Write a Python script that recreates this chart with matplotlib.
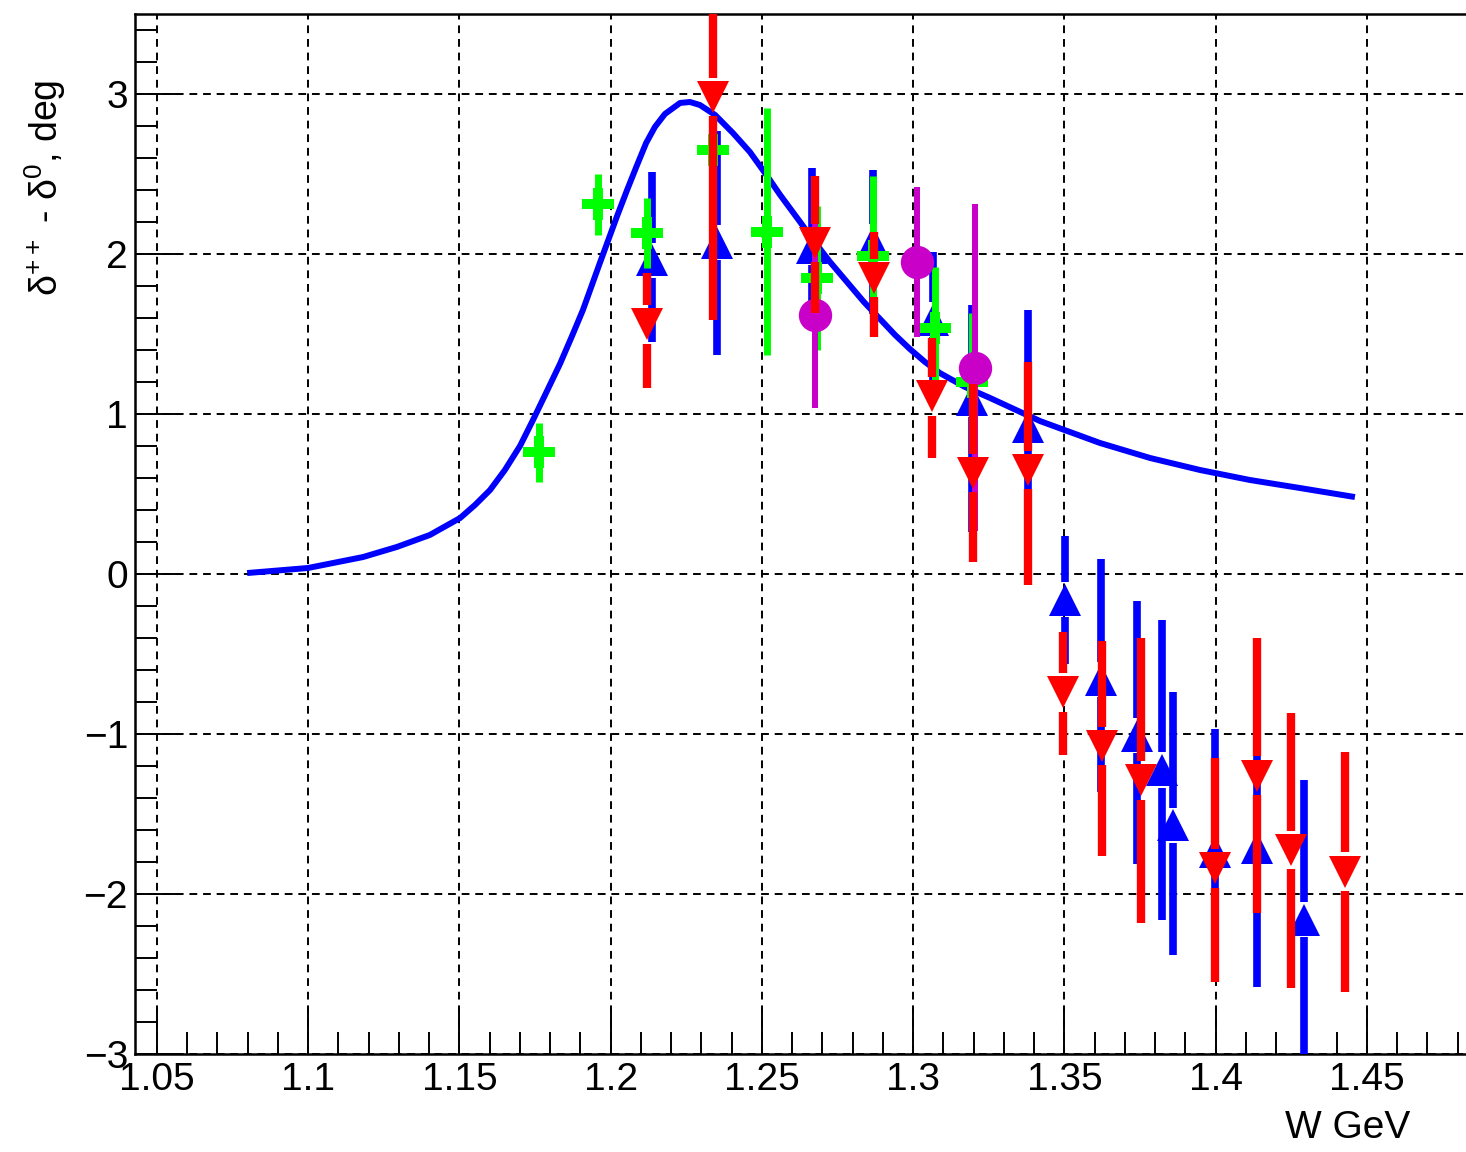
import numpy as np
import matplotlib
matplotlib.use("Agg")
import matplotlib.pyplot as plt
from matplotlib.ticker import FixedLocator, MultipleLocator

plt.rcParams['font.family'] = ['Liberation Sans', 'DejaVu Sans']

# ---------------- data ----------------
curve_w = [1.0798, 1.0999, 1.1181, 1.1293, 1.1402, 1.1502, 1.1551, 1.1601, 1.1650, 1.1700,
           1.1743, 1.1786, 1.1832, 1.1872, 1.1908, 1.1964, 1.2021, 1.2054, 1.2087, 1.2117,
           1.2146, 1.2179, 1.2229, 1.2262, 1.2295, 1.2345, 1.2404, 1.2460, 1.2517, 1.2560,
           1.2626, 1.2669, 1.2725, 1.2781, 1.2837, 1.2890, 1.2940, 1.2989, 1.3039, 1.3088,
           1.3171, 1.3254, 1.3419, 1.3617, 1.3783, 1.3948, 1.4113, 1.4278, 1.4460]
curve_v = [0.006, 0.0375, 0.106, 0.169, 0.244, 0.35, 0.431, 0.525, 0.65, 0.80,
           0.9625, 1.131, 1.3125, 1.4875, 1.65, 1.944, 2.2375, 2.40, 2.556, 2.694,
           2.794, 2.875, 2.944, 2.95, 2.931, 2.869, 2.756, 2.6375, 2.4875, 2.369,
           2.20, 2.0875, 1.95, 1.825, 1.70, 1.594, 1.494, 1.406, 1.325, 1.256,
           1.169, 1.10, 0.956, 0.819, 0.725, 0.65, 0.5875, 0.5375, 0.481]

green_w = [1.1763, 1.1958, 1.2120, 1.2338, 1.2516, 1.2682, 1.2867, 1.3072, 1.3194]
green_v = [0.76, 2.31, 2.13, 2.65, 2.14, 1.85, 1.99, 1.54, 1.20]
green_lo = [0.185, 0.19, 0.22, 0.11, 0.77, 0.45, 0.50, 0.38, 0.43]
green_hi = [0.185, 0.19, 0.22, 0.11, 0.77, 0.45, 0.50, 0.38, 0.43]

blue_w = [1.2136, 1.2351, 1.2665, 1.2867, 1.3065, 1.3194, 1.3380, 1.3502, 1.3620,
          1.3740, 1.3822, 1.3859, 1.3997, 1.4136, 1.4292]
blue_v = [1.96, 2.07, 2.04, 2.075, 1.59, 1.09, 0.92, -0.16, -0.66,
          -1.01, -1.225, -1.57, -1.74, -1.71, -2.16]
blue_lo = [0.51, 0.70, 0.50, 0.45, 0.42, 0.83, 0.73, 0.40, 0.70,
           0.80, 0.94, 0.81, 0.77, 0.87, 0.87]
blue_hi = [0.55, 0.70, 0.50, 0.45, 0.42, 0.59, 0.73, 0.40, 0.755,
           0.84, 0.94, 0.83, 0.77, 0.87, 0.87]

red_w = [1.2120, 1.2338, 1.2675, 1.2870, 1.3062, 1.3198, 1.3380, 1.3495, 1.3624,
         1.3753, 1.3997, 1.4136, 1.4249, 1.4427]
red_v = [1.56, 2.98, 2.07, 1.85, 1.11, 0.63, 0.65, -0.74, -1.075,
         -1.29, -1.84, -1.26, -1.725, -1.86]
red_lo = [0.40, 1.39, 0.44, 0.37, 0.385, 0.555, 0.72, 0.39, 0.685,
          0.89, 0.71, 0.86, 0.865, 0.75]
red_hi = [0.32, 1.39, 0.42, 0.29, 0.365, 0.555, 0.675, 0.38, 0.655,
          0.89, 0.69, 0.86, 0.855, 0.75]

mag_w = [1.2675, 1.3012, 1.3204]
mag_v = [1.62, 1.95, 1.29]
mag_lo = [0.58, 0.47, 1.02]
mag_hi = [0.58, 0.47, 1.02]

x_ticks = [1.05, 1.10, 1.15, 1.20, 1.25, 1.30, 1.35, 1.40, 1.45]
x_tick_labels = ['1.05', '1.1', '1.15', '1.2', '1.25', '1.3', '1.35', '1.4', '1.45']
y_ticks = [-3, -2, -1, 0, 1, 2, 3]
y_tick_labels = ['\u22123', '\u22122', '\u22121', '0', '1', '2', '3']

# ---------------- figure ----------------
W, H = 1466, 1152
fig = plt.figure(figsize=(W / 100, H / 100), dpi=100)
ax = fig.add_axes([135 / W, (H - 1054) / H, 1 - 135 / W, (1054 - 14) / H])

x0 = 1.05 - 22 / 3025.0
x1 = 1.05 + (W - 157) / 3025.0
ax.set_xlim(x0, x1)
ax.set_ylim(-3, 3.5)

ax.set_axisbelow(True)
ax.grid(True, which='major', color='black', linestyle=(0, (4, 3)), linewidth=1.4)

ax.plot(curve_w, curve_v, color='#0000ff', lw=4.3, zorder=2,
        solid_capstyle='butt', solid_joinstyle='round')


def draw_series(w, v, lo, hi, color, marker, ms, lw, gap, z):
    w = np.asarray(w, float)
    v = np.asarray(v, float)
    lo = np.asarray(lo, float)
    hi = np.asarray(hi, float)
    m_up = hi > gap
    m_dn = lo > gap
    ax.vlines(w[m_up], (v + gap)[m_up], (v + hi)[m_up], colors=color, lw=lw,
              zorder=z, capstyle='butt')
    ax.vlines(w[m_dn], (v - lo)[m_dn], (v - gap)[m_dn], colors=color, lw=lw,
              zorder=z, capstyle='butt')
    ax.plot(w, v, linestyle='none', marker=marker, ms=ms, color=color,
            mec=color, mew=0, zorder=z + 0.1)


draw_series(blue_w, blue_v, blue_lo, blue_hi, '#0000ff', '^', 23, 5.5, 0.11, 3)
draw_series(green_w, green_v, green_lo, green_hi, '#00ff00', 'P', 23, 5.0, 0.0, 4)
draw_series(mag_w, mag_v, mag_lo, mag_hi, '#c800c8', 'o', 24, 4.3, 0.0, 5)
draw_series(red_w, red_v, red_lo, red_hi, '#ff0000', 'v', 23, 6.0, 0.12, 6)

# axes / ticks
ax.xaxis.set_major_locator(FixedLocator(x_ticks))
ax.set_xticklabels(x_tick_labels)
ax.yaxis.set_major_locator(FixedLocator(y_ticks))
ax.set_yticklabels(y_tick_labels)
ax.xaxis.set_minor_locator(MultipleLocator(0.01))
ax.yaxis.set_minor_locator(MultipleLocator(0.2))
ax.tick_params(axis='both', which='major', direction='in', length=33, width=1.4,
               labelsize=28, top=False, right=False, color='black')
ax.tick_params(axis='both', which='minor', direction='in', length=16, width=1.4,
               top=False, right=False)
ax.tick_params(axis='x', which='major', pad=6)
ax.tick_params(axis='y', which='major', pad=5)
for s in ['left', 'bottom', 'top']:
    ax.spines[s].set_linewidth(1.8)
ax.spines['right'].set_visible(False)

fig.text(45 / W, 1 - 80 / H, r'$\mathregular{\delta^{++}}$ - $\mathregular{\delta^{0}}$, deg',
         rotation=90, ha='center', va='top', fontsize=27)
fig.text(1410 / W, 1 - 1128 / H, 'W GeV', ha='right', va='center', fontsize=28)

fig.savefig('out.png', dpi=100)
